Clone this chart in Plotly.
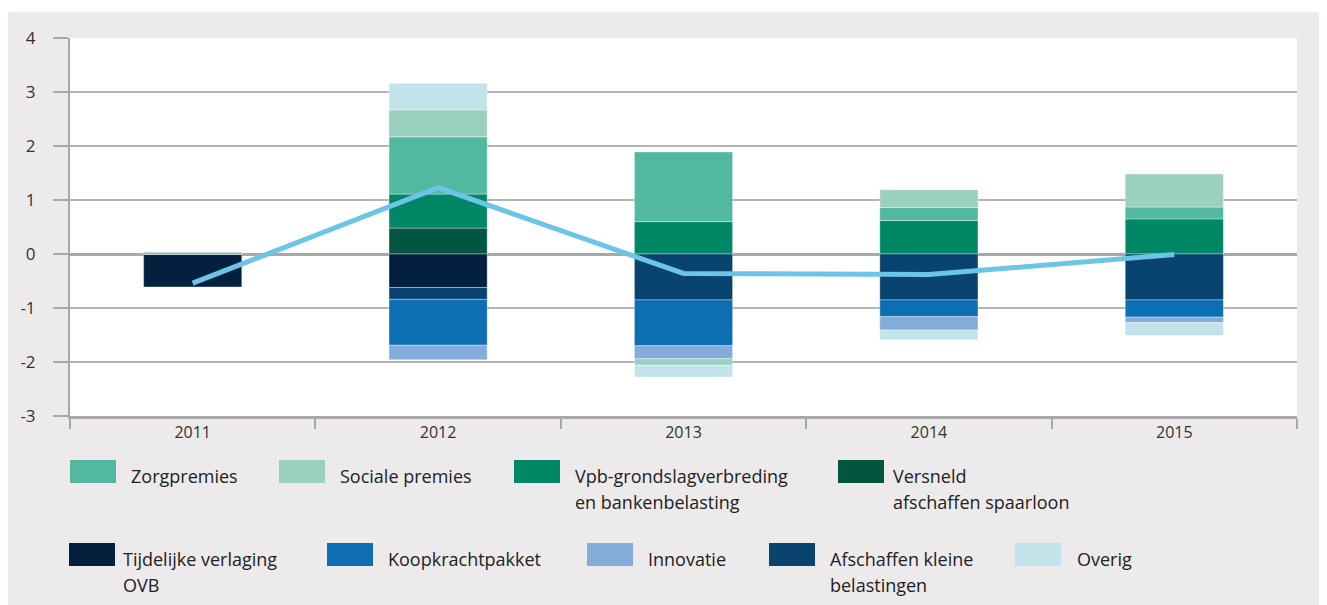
import plotly.graph_objects as go

# jaren (categorieen)
years = ["2011", "2012", "2013", "2014", "2015"]

# mutaties per onderdeel (mld euro)
versneld_spaarloon = [0.0, 0.48, 0.0, 0.0, 0.0]
tijdelijke_ovb = [-0.61, -0.62, 0.0, 0.0, 0.0]
vpb_banken = [0.0, 0.63, 0.60, 0.62, 0.65]
afschaffen_kleine = [0.0, -0.22, -0.85, -0.85, -0.85]
koopkracht = [0.0, -0.85, -0.85, -0.31, -0.32]
zorgpremies = [0.04, 1.06, 1.29, 0.24, 0.22]
innovatie = [0.0, -0.27, -0.24, -0.25, -0.10]
sociale_premies = [0.0, 0.50, -0.12, 0.33, 0.61]
overig = [0.0, 0.49, -0.22, -0.18, -0.24]

# totaal (lijn)
totaal = [-0.54, 1.23, -0.36, -0.38, -0.01]

y_ticks = [-3, -2, -1, 0, 1, 2, 3, 4]

# stapelvolgorde (van de nullijn af)
series = [
    ("Versneld afschaffen spaarloon", versneld_spaarloon, "#02553E"),
    ("Tijdelijke verlaging OVB", tijdelijke_ovb, "#03213F"),
    ("Vpb-grondslagverbreding en bankenbelasting", vpb_banken, "#008866"),
    ("Afschaffen kleine belastingen", afschaffen_kleine, "#09436F"),
    ("Koopkrachtpakket", koopkracht, "#0E6EB3"),
    ("Zorgpremies", zorgpremies, "#52B9A0"),
    ("Innovatie", innovatie, "#83ACDA"),
    ("Sociale premies", sociale_premies, "#9BD0C1"),
    ("Overig", overig, "#C3E3EA"),
]
colors = {name: c for name, _, c in series}

fig = go.Figure()
for name, vals, col in series:
    fig.add_trace(go.Bar(x=years, y=vals, name=name, marker_color=col,
                         marker_line=dict(color="rgba(255,255,255,0.6)", width=0.6),
                         showlegend=False))

fig.add_trace(go.Scatter(x=years, y=totaal, mode="lines",
                         line=dict(color="#6CC5E6", width=5),
                         showlegend=False))

# de pagina heeft 8px body-marge; alles in figuur-pixels (= pagina - 8)
W, H = 1319, 597
L, R, T, B = 62, 1289, 30, 408


def px(x):
    return (x - L) / (R - L)


def py(y):
    return (B - y) / (B - T)


shapes = [
    # witte strook bovenaan
    dict(type="rect", xref="paper", yref="paper", x0=px(0), x1=px(W),
         y0=py(4), y1=py(0), fillcolor="white", line_width=0, layer="below"),
]

# eigen legenda: (naam, regels, rechthoek x0, tekst x, rij-y)
legend_items = [
    ("Zorgpremies", ["Zorgpremies"], 62, 121, 452),
    ("Sociale premies", ["Sociale premies"], 271, 330, 452),
    ("Vpb-grondslagverbreding en bankenbelasting",
     ["Vpb-grondslagverbreding", "en bankenbelasting"], 506, 565, 452),
    ("Versneld afschaffen spaarloon",
     ["Versneld", "afschaffen spaarloon"], 830, 883, 452),
    ("Tijdelijke verlaging OVB", ["Tijdelijke verlaging", "OVB"], 61, 113, 535),
    ("Koopkrachtpakket", ["Koopkrachtpakket"], 319, 378, 535),
    ("Innovatie", ["Innovatie"], 579, 638, 535),
    ("Afschaffen kleine belastingen",
     ["Afschaffen kleine", "belastingen"], 761, 820, 535),
    ("Overig", ["Overig"], 1007, 1067, 535),
]

annotations = []
for name, lines, rx, tx, ry in legend_items:
    shapes.append(dict(type="rect", xref="paper", yref="paper",
                       x0=px(rx), x1=px(rx + 46), y0=py(ry + 23), y1=py(ry),
                       fillcolor=colors[name], line_width=0))
    for i, line in enumerate(lines):
        annotations.append(dict(text=line, xref="paper", yref="paper",
                                x=px(tx), y=py(ry + 16 + 25.5 * i),
                                xanchor="left", yanchor="middle",
                                align="left", showarrow=False,
                                font=dict(family="Open Sans", size=18, color="#222222")))

fig.update_layout(
    width=W, height=H,
    margin=dict(l=L, r=W - R, t=T, b=H - B),
    paper_bgcolor="#ECEAEB",
    plot_bgcolor="white",
    barmode="relative",
    bargap=0.6,
    shapes=shapes,
    annotations=annotations,
    font=dict(family="Open Sans", color="#333333"),
)

fig.update_xaxes(
    type="category", tickson="boundaries", ticks="outside", ticklen=10,
    tickcolor="#A8A8A8", tickwidth=1.5, showgrid=False,
    showline=True, linecolor="#A8A8A8", linewidth=3, mirror=False,
    tickfont=dict(size=16, color="#333333"),
)
fig.update_yaxes(
    range=[-3, 4], tickvals=y_ticks, ticktext=[str(v) for v in y_ticks],
    ticks="outside", ticklen=15, tickcolor="#A8A8A8", tickwidth=1.5,
    ticklabelstandoff=14,
    showgrid=True, gridcolor="#B4B4B4", gridwidth=1.5,
    zeroline=True, zerolinecolor="#A8A8A8", zerolinewidth=3,
    showline=True, linecolor="#A8A8A8", linewidth=2,
    tickfont=dict(size=17, color="#333333"),
)

fig.write_html("out.html")
